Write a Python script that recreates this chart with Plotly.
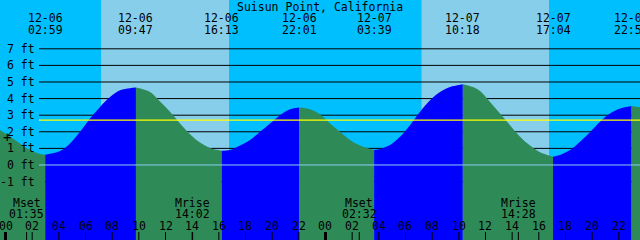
import plotly.graph_objects as go

# ---------------- data ----------------
title = "Suisun Point, California"

# tide extremes (date, time, height in ft)
event_dates = ["12-06", "12-06", "12-06", "12-06", "12-07", "12-07", "12-07", "12-07"]
event_times = ["02:59", "09:47", "16:13", "22:01", "03:39", "10:18", "17:04", "22:57"]
event_ft = [0.62, 4.67, 0.85, 3.46, 0.90, 4.87, 0.50, 3.56]

# sampled tide curve (hours since 12-06 00:00, height ft)
curve_hours = [-0.41, 0.34, 1.09, 1.84, 2.59, 4.09, 4.84, 5.59, 6.34, 7.09, 7.84, 8.59,
               9.34, 10.84, 11.59, 12.34, 13.09, 13.84, 14.59, 15.34, 16.84, 17.59,
               18.34, 19.09, 19.84, 20.59, 21.34, 22.84, 23.59, 24.34, 25.09, 25.84,
               26.59, 28.09, 28.84, 29.59, 30.34, 31.09, 31.84, 32.59, 33.34, 35.06,
               35.59, 36.34, 37.09, 37.84, 38.59, 39.34, 40.09, 41.59, 42.34, 43.09,
               43.84, 44.59, 45.34, 46.09, 47.59]
curve_ft = [2.10, 1.70, 1.30, 0.90, 0.66, 0.84, 1.30, 2.00, 2.80, 3.50, 4.10, 4.50,
            4.63, 4.40, 3.82, 3.20, 2.50, 1.85, 1.35, 1.02, 0.90, 1.17,
            1.50, 2.00, 2.50, 3.00, 3.36, 3.36, 3.05, 2.50, 2.00, 1.50,
            1.17, 0.97, 1.20, 1.70, 2.40, 3.20, 3.90, 4.40, 4.70, 4.70,
            4.45, 3.80, 3.10, 2.40, 1.70, 1.17, 0.77, 0.60, 0.90, 1.40,
            1.97, 2.60, 3.10, 3.40, 3.48]

# moon events
moon_names = ["Mset", "Mrise", "Mset", "Mrise"]
moon_dates = ["12-06", "12-06", "12-07", "12-07"]
moon_times = ["01:35", "14:02", "02:32", "14:28"]

# sun (daylight intervals)
sun_dates = ["12-06", "12-07"]
sunrise_times = ["07:10", "07:12"]
sunset_times = ["16:46", "16:46"]

# y axis
ft_ticks = [-1, 0, 1, 2, 3, 4, 5, 6, 7]
mean_level_ft = 2.7
hour_ticks = list(range(0, 50, 2))

# ---------------- helpers ----------------
day_offset = {"12-06": 0, "12-07": 24}


def to_h(date, t):
    hh, mm = t.split(":")
    return day_offset[date] + int(hh) + int(mm) / 60.0


W, H = 640, 240
PX_PER_H = 13.333
X0 = 5.5
x_range = [-X0 / PX_PER_H, (W - X0) / PX_PER_H]
y_range = [-4.52, 9.94]


def py(p):  # pixel y -> paper
    return 1 - p / H


NIGHT = "#00BFFF"
DAY = "#87CEEB"
RISE = "#0000FF"
FALL = "#2E8B57"
FONT = dict(family="DejaVu Sans Mono", size=11.5, color="black")

event_h = [to_h(d, t) for d, t in zip(event_dates, event_times)]
pts = sorted(list(zip(curve_hours, curve_ft)) + list(zip(event_h, event_ft)))

fig = go.Figure()

bounds = [pts[0][0]] + event_h + [pts[-1][0]]
for a, b in zip(bounds[:-1], bounds[1:]):
    seg = [p for p in pts if a - 1e-9 <= p[0] <= b + 1e-9]
    xs = [p[0] for p in seg]
    ys = [p[1] for p in seg]
    color = RISE if ys[-1] > ys[0] else FALL
    fig.add_trace(go.Scatter(x=xs, y=[-6] * len(xs), mode="lines",
                             line=dict(width=0), hoverinfo="skip", showlegend=False))
    fig.add_trace(go.Scatter(x=xs, y=ys, mode="lines", fill="tonexty",
                             fillcolor=color, line=dict(width=0, shape="spline"),
                             hoverinfo="skip", showlegend=False))

shapes = []
# daylight
for d, r, s in zip(sun_dates, sunrise_times, sunset_times):
    shapes.append(dict(type="rect", xref="x", yref="paper", x0=to_h(d, r), x1=to_h(d, s),
                       y0=0, y1=1, fillcolor=DAY, line=dict(width=0), layer="below"))
# grid lines
for v in ft_ticks:
    if v == 0:
        continue
    shapes.append(dict(type="line", xref="paper", yref="y", x0=39 / W, x1=1, y0=v, y1=v,
                       line=dict(color="black", width=1), layer="below"))
# datum and mean level on top
shapes.append(dict(type="line", xref="paper", yref="y", x0=39 / W, x1=1, y0=0, y1=0,
                   line=dict(color="#8ccff0", width=1), layer="above"))
shapes.append(dict(type="line", xref="paper", yref="y", x0=39 / W, x1=1,
                   y0=mean_level_ft, y1=mean_level_ft,
                   line=dict(color="#FFFF00", width=1.2), layer="above"))
# hour ticks
for h in hour_ticks:
    shapes.append(dict(type="line", xref="x", yref="paper", x0=h, x1=h, y0=0, y1=8 / H,
                       line=dict(color="black", width=3 if h % 24 == 0 else 1),
                       layer="above"))
# moon ticks
for d, t in zip(moon_dates, moon_times):
    h = to_h(d, t)
    shapes.append(dict(type="line", xref="x", yref="paper", x0=h, x1=h, y0=0, y1=8 / H,
                       line=dict(color="black", width=1), layer="above"))

ann = []
ann.append(dict(text=title, xref="paper", yref="paper", x=0.5, y=py(6.5), showarrow=False,
                font=FONT, xanchor="center", yanchor="middle"))
for d, t, h in zip(event_dates, event_times, event_h):
    ann.append(dict(text=d, xref="x", yref="paper", x=h, y=py(18), showarrow=False,
                    font=FONT, xanchor="center", yanchor="middle"))
    ann.append(dict(text=t, xref="x", yref="paper", x=h, y=py(29.5), showarrow=False,
                    font=FONT, xanchor="center", yanchor="middle"))
for v in ft_ticks:
    ann.append(dict(text=f"{v} ft", xref="paper", yref="y", x=37 / W, y=v, showarrow=False,
                    font=FONT, xanchor="right", yanchor="middle"))
ann.append(dict(text="+", xref="paper", yref="paper", x=7 / W, y=py(137), showarrow=False,
                font=dict(family="DejaVu Sans Mono", size=14, color="black"),
                xanchor="center", yanchor="middle"))
for n, d, t in zip(moon_names, moon_dates, moon_times):
    h = to_h(d, t)
    ann.append(dict(text=n, xref="x", yref="paper", x=h, y=py(202.5), showarrow=False,
                    font=FONT, xanchor="center", yanchor="middle"))
    ann.append(dict(text=t, xref="x", yref="paper", x=h, y=py(213.5), showarrow=False,
                    font=FONT, xanchor="center", yanchor="middle"))
for h in hour_ticks:
    ann.append(dict(text=f"{h % 24:02d}", xref="x", yref="paper", x=h, y=py(225.5),
                    showarrow=False, font=FONT, xanchor="center", yanchor="middle"))

fig.update_layout(
    width=W, height=H, margin=dict(l=0, r=0, t=0, b=0),
    paper_bgcolor=NIGHT, plot_bgcolor=NIGHT,
    xaxis=dict(range=x_range, visible=False, fixedrange=True),
    yaxis=dict(range=y_range, visible=False, fixedrange=True),
    shapes=shapes, annotations=ann, showlegend=False,
)
fig.write_html("out.html", config={"displayModeBar": False})
